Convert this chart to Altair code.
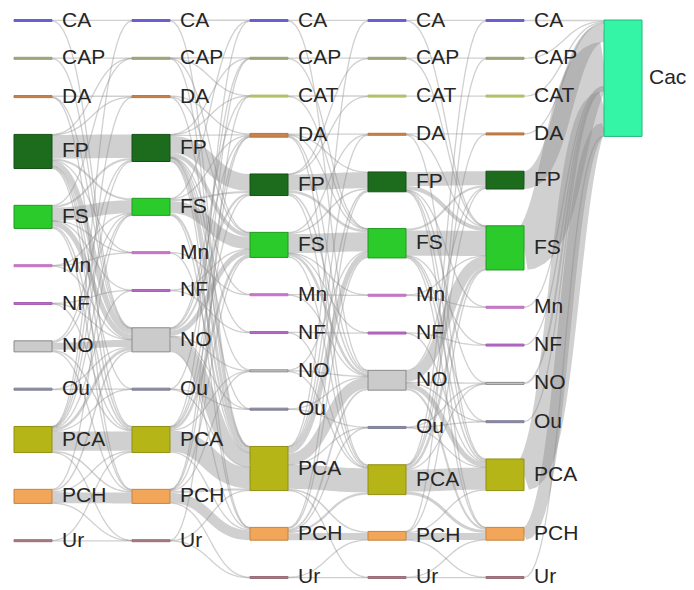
import altair as alt
import pandas as pd

# ---------------- data ----------------
col_a = ["CA", "CAP", "DA", "FP", "FS", "Mn", "NF", "NO", "Ou", "PCA", "PCH", "Ur"]
col_b = ["CA", "CAP", "CAT", "DA", "FP", "FS", "Mn", "NF", "NO", "Ou", "PCA", "PCH", "Ur"]
columns = [col_a, col_a, col_b, col_b, col_b, ["Cac"]]

links_0_1 = [
    ("CA", "CA", 0.75), ("CA", "NO", 0.25),
    ("CAP", "CAP", 0.5), ("CAP", "NO", 0.5),
    ("DA", "DA", 1.5), ("DA", "NO", 0.25), ("DA", "PCA", 0.25),
    ("FP", "FP", 23.5), ("FP", "FS", 2), ("FP", "NO", 5.5), ("FP", "PCA", 1.5), ("FP", "PCH", 0.5),
    ("FP", "CAP", 0.25), ("FP", "Mn", 0.25), ("FP", "Ou", 0.25), ("FP", "DA", 0.25),
    ("FS", "FS", 13), ("FS", "FP", 2), ("FS", "NO", 5), ("FS", "PCA", 1.5), ("FS", "PCH", 0.75),
    ("FS", "Mn", 0.25), ("FS", "NF", 0.25), ("FS", "CAP", 0.25),
    ("Mn", "Mn", 0.5), ("Mn", "NO", 0.25), ("Mn", "FS", 0.25),
    ("NF", "NF", 0.5), ("NF", "NO", 0.25), ("NF", "PCA", 0.25),
    ("NO", "NO", 7), ("NO", "FP", 1), ("NO", "FS", 1), ("NO", "PCA", 1.5), ("NO", "PCH", 0.5),
    ("Ou", "Ou", 0.25), ("Ou", "NO", 0.75),
    ("PCA", "PCA", 19.25), ("PCA", "NO", 2.75), ("PCA", "FP", 0.5), ("PCA", "FS", 0.5), ("PCA", "PCH", 1.5),
    ("PCA", "Ou", 0.5), ("PCA", "NF", 0.25), ("PCA", "Ur", 0.25), ("PCA", "CA", 0.25), ("PCA", "DA", 0.25),
    ("PCH", "PCH", 10.75), ("PCH", "PCA", 1.25), ("PCH", "NO", 1.5), ("PCH", "FS", 0.25), ("PCH", "Ur", 0.25),
    ("Ur", "Ur", 0.5), ("Ur", "PCA", 0.5),
]
links_1_2 = [
    ("CA", "CA", 0.5), ("CA", "PCA", 0.5),
    ("CAP", "CAP", 0.25), ("CAP", "CAT", 0.25), ("CAP", "FS", 0.25), ("CAP", "PCA", 0.25),
    ("DA", "DA", 1), ("DA", "PCA", 0.5), ("DA", "FS", 0.5),
    ("FP", "FP", 17), ("FP", "FS", 4), ("FP", "PCA", 3), ("FP", "DA", 1), ("FP", "CAT", 0.25), ("FP", "CAP", 0.25),
    ("FP", "PCH", 0.5), ("FP", "Mn", 0.25), ("FP", "NO", 0.25), ("FP", "Ou", 0.25), ("FP", "NF", 0.25),
    ("FS", "FS", 12), ("FS", "FP", 2), ("FS", "PCA", 2), ("FS", "DA", 0.5), ("FS", "PCH", 0.25), ("FS", "CA", 0.25),
    ("Mn", "Mn", 0.75), ("Mn", "PCA", 0.25),
    ("NF", "NF", 0.75), ("NF", "FS", 0.25),
    ("NO", "PCA", 14), ("NO", "FS", 5), ("NO", "FP", 2), ("NO", "PCH", 1), ("NO", "NO", 1), ("NO", "DA", 0.5),
    ("NO", "CAT", 0.25), ("NO", "Ou", 0.25),
    ("Ou", "Ou", 0.5), ("Ou", "PCA", 0.25), ("Ou", "CAP", 0.25),
    ("PCA", "PCA", 21), ("PCA", "FS", 2.5), ("PCA", "FP", 0.5), ("PCA", "PCH", 1), ("PCA", "DA", 0.5),
    ("PCA", "NO", 0.25), ("PCA", "CA", 0.25),
    ("PCH", "PCH", 10), ("PCH", "PCA", 2), ("PCH", "FS", 0.5), ("PCH", "NO", 0.5), ("PCH", "Ur", 0.5),
    ("PCH", "CAP", 0.25), ("PCH", "DA", 0.25),
    ("Ur", "Ur", 0.5), ("Ur", "PCA", 0.25), ("Ur", "CAT", 0.25),
]
links_2_3 = [
    ("CA", "CA", 0.75), ("CA", "NO", 0.25),
    ("CAP", "CAP", 0.75), ("CAP", "FS", 0.25),
    ("CAT", "CAT", 0.75), ("CAT", "FS", 0.25),
    ("DA", "DA", 1.25), ("DA", "NO", 1), ("DA", "FS", 0.75), ("DA", "PCA", 0.5), ("DA", "FP", 0.25),
    ("FP", "FP", 16), ("FP", "FS", 2.5), ("FP", "NO", 1.5), ("FP", "PCA", 1), ("FP", "CAP", 0.25), ("FP", "CAT", 0.25),
    ("FS", "FS", 19), ("FS", "FP", 1.5), ("FS", "NO", 2.5), ("FS", "PCA", 1.25), ("FS", "Mn", 0.25),
    ("FS", "NF", 0.25), ("FS", "DA", 0.25),
    ("Mn", "Mn", 0.75), ("Mn", "NO", 0.25),
    ("NF", "NF", 0.75), ("NF", "PCA", 0.25),
    ("NO", "NO", 1), ("NO", "FS", 0.5), ("NO", "PCA", 0.5),
    ("Ou", "Ou", 0.5), ("Ou", "NO", 0.5),
    ("PCA", "PCA", 24), ("PCA", "NO", 11), ("PCA", "FS", 5), ("PCA", "FP", 1.5), ("PCA", "PCH", 1.5),
    ("PCA", "Ou", 0.25), ("PCA", "CA", 0.25), ("PCA", "Ur", 0.25), ("PCA", "DA", 0.25),
    ("PCH", "PCH", 7), ("PCH", "PCA", 2.25), ("PCH", "NO", 1.75), ("PCH", "FS", 1), ("PCH", "FP", 0.5), ("PCH", "Ou", 0.25),
    ("Ur", "Ur", 0.75), ("Ur", "PCH", 0.25),
]
links_3_4 = [
    ("CA", "CA", 0.75), ("CA", "FS", 0.25),
    ("CAP", "CAP", 0.75), ("CAP", "FS", 0.25),
    ("CAT", "CAT", 1),
    ("DA", "DA", 0.75), ("DA", "FS", 0.5), ("DA", "PCA", 0.5),
    ("FP", "FP", 14), ("FP", "FS", 4), ("FP", "PCA", 1), ("FP", "NO", 0.25), ("FP", "Mn", 0.25), ("FP", "PCH", 0.25),
    ("FS", "FS", 25), ("FS", "FP", 2), ("FS", "PCA", 1.5), ("FS", "NF", 0.25), ("FS", "Ou", 0.25), ("FS", "PCH", 0.25),
    ("Mn", "Mn", 0.75), ("Mn", "FS", 0.25),
    ("NF", "NF", 0.75), ("NF", "PCA", 0.25),
    ("NO", "FS", 11), ("NO", "PCA", 5), ("NO", "PCH", 2), ("NO", "NO", 1), ("NO", "FP", 0.5), ("NO", "Ou", 0.25),
    ("Ou", "Ou", 0.5), ("Ou", "PCA", 0.25), ("Ou", "NO", 0.25),
    ("PCA", "PCA", 22), ("PCA", "FS", 2.5), ("PCA", "PCH", 3), ("PCA", "FP", 1.25), ("PCA", "NO", 0.5),
    ("PCA", "CA", 0.25), ("PCA", "DA", 0.25),
    ("PCH", "PCH", 7), ("PCH", "PCA", 1), ("PCH", "FS", 0.25), ("PCH", "Ur", 0.25), ("PCH", "CAP", 0.25),
    ("Ur", "Ur", 0.75), ("Ur", "PCH", 0.25),
]
links_4_5 = [
    ("CA", "Cac", 1), ("CAP", "Cac", 1), ("CAT", "Cac", 1), ("DA", "Cac", 1),
    ("FP", "Cac", 17.75), ("FS", "Cac", 44), ("Mn", "Cac", 1), ("NF", "Cac", 1),
    ("NO", "Cac", 2), ("Ou", "Cac", 1), ("PCA", "Cac", 31.5), ("PCH", "Cac", 12.75), ("Ur", "Cac", 1),
]
transitions = [links_0_1, links_1_2, links_2_3, links_3_4, links_4_5]

# ---------------- styles ----------------
node_names = ["CA", "CAP", "CAT", "DA", "FP", "FS", "Mn", "NF", "NO", "Ou", "PCA", "PCH", "Ur", "Cac"]
node_fill = ["#6a5fd0", "#a0a67c", "#b9c46c", "#c8834a", "#1d6b1d", "#2ccb2c", "#cc77cc", "#b868c8",
             "#cbcbcb", "#8a8aa0", "#b5b517", "#f2a65a", "#a57a80", "#33f5a5"]
node_stroke = ["#6a5fd0", "#98a074", "#b0bc64", "#b87540", "#145214", "#1f9a1f", "#c070c0", "#a860b8",
               "#8a8a8a", "#80809a", "#8f8f10", "#c7833e", "#98707a", "#22b878"]

W, H = 678, 580
X0, STEP, NODE_W = 6, 118, 38
TOP, BOTTOM, PAD = 12, 570, 36.8
LABEL_DX = 10
LAST_LABEL_DX = 7

# ---------------- sankey layout ----------------
inflow, outflow = {}, {}
for c, links in enumerate(transitions):
    for s, t, v in links:
        outflow[(c, s)] = outflow.get((c, s), 0) + v
        inflow[(c + 1, t)] = inflow.get((c + 1, t), 0) + v

value = {}
for c, names in enumerate(columns):
    for n in names:
        value[(c, n)] = max(inflow.get((c, n), 0), outflow.get((c, n), 0))

ky = min((BOTTOM - TOP - (len(names) - 1) * PAD) / sum(value[(c, n)] for n in names)
         for c, names in enumerate(columns))

pos = {}
for c, names in enumerate(columns):
    y = TOP
    for n in names:
        h = value[(c, n)] * ky
        pos[(c, n)] = (X0 + c * STEP, X0 + c * STEP + NODE_W, y, y + h)
        y += h + PAD

# link offsets (d3-sankey style ordering)
link_list = []
for c, links in enumerate(transitions):
    for s, t, v in links:
        link_list.append({"c": c, "s": s, "t": t, "v": v})

src_off = {k: pos[k][2] for k in pos}
tgt_off = {k: pos[k][2] for k in pos}
for k in pos:
    outs = sorted([l for l in link_list if (l["c"], l["s"]) == k], key=lambda l: pos[(l["c"] + 1, l["t"])][2])
    for l in outs:
        w = l["v"] * ky
        l["y0"] = src_off[k] + w / 2
        src_off[k] += w
    ins = sorted([l for l in link_list if (l["c"] + 1, l["t"]) == k], key=lambda l: pos[(l["c"], l["s"])][2])
    for l in ins:
        w = l["v"] * ky
        l["y1"] = tgt_off[k] + w / 2
        tgt_off[k] += w

rows = []
NS = 28
for i, l in enumerate(link_list):
    xs_ = pos[(l["c"], l["s"])][1]
    xt = pos[(l["c"] + 1, l["t"])][0]
    xm = (xs_ + xt) / 2
    w = max(1.3, l["v"] * ky)
    for j in range(NS + 1):
        u = j / NS
        a, b, cc, d = (1 - u) ** 3, 3 * (1 - u) ** 2 * u, 3 * (1 - u) * u ** 2, u ** 3
        rows.append({
            "id": i, "u": u, "w": w,
            "x": a * xs_ + b * xm + cc * xm + d * xt,
            "y": a * l["y0"] + b * l["y0"] + cc * l["y1"] + d * l["y1"],
        })
link_df = pd.DataFrame(rows)

last_col = len(columns) - 1
node_rows = []
for (c, n), (x0, x1, y0, y1) in pos.items():
    mid = (y0 + y1) / 2
    if y1 - y0 < 2:
        y0, y1 = mid - 1, mid + 1
    dx = LAST_LABEL_DX if c == last_col else LABEL_DX
    node_rows.append({"name": n, "x0": x0, "x1": x1, "y0": y0, "y1": y1,
                      "lx": x1 + dx, "ly": mid})
node_df = pd.DataFrame(node_rows)

xs = alt.Scale(domain=[0, W], range=[0, W])
ys = alt.Scale(domain=[0, H], range=[0, H])

links_layer = alt.Chart(link_df).mark_line(color="#8a8a8a", opacity=0.4, strokeCap="butt").encode(
    x=alt.X("x:Q", scale=xs, axis=None),
    y=alt.Y("y:Q", scale=ys, axis=None),
    detail="id:N",
    order="u:Q",
    strokeWidth=alt.StrokeWidth("w:Q", scale=None),
)

nodes_layer = alt.Chart(node_df).mark_rect(strokeWidth=1).encode(
    x=alt.X("x0:Q", scale=xs, axis=None),
    x2="x1:Q",
    y=alt.Y("y0:Q", scale=ys, axis=None),
    y2="y1:Q",
    fill=alt.Fill("name:N", scale=alt.Scale(domain=node_names, range=node_fill), legend=None),
    stroke=alt.Stroke("name:N", scale=alt.Scale(domain=node_names, range=node_stroke), legend=None),
)

labels_layer = alt.Chart(node_df).mark_text(
    align="left", baseline="middle", fontSize=21, font="Liberation Sans", color="#262626"
).encode(
    x=alt.X("lx:Q", scale=xs, axis=None),
    y=alt.Y("ly:Q", scale=ys, axis=None),
    text="name:N",
)

chart = alt.layer(links_layer, nodes_layer, labels_layer).properties(
    width=W, height=H, padding=0, autosize=alt.AutoSizeParams(type="none")
).configure_view(strokeWidth=0)

chart.save("out.html", embed_options={"renderer": "svg", "actions": False})
